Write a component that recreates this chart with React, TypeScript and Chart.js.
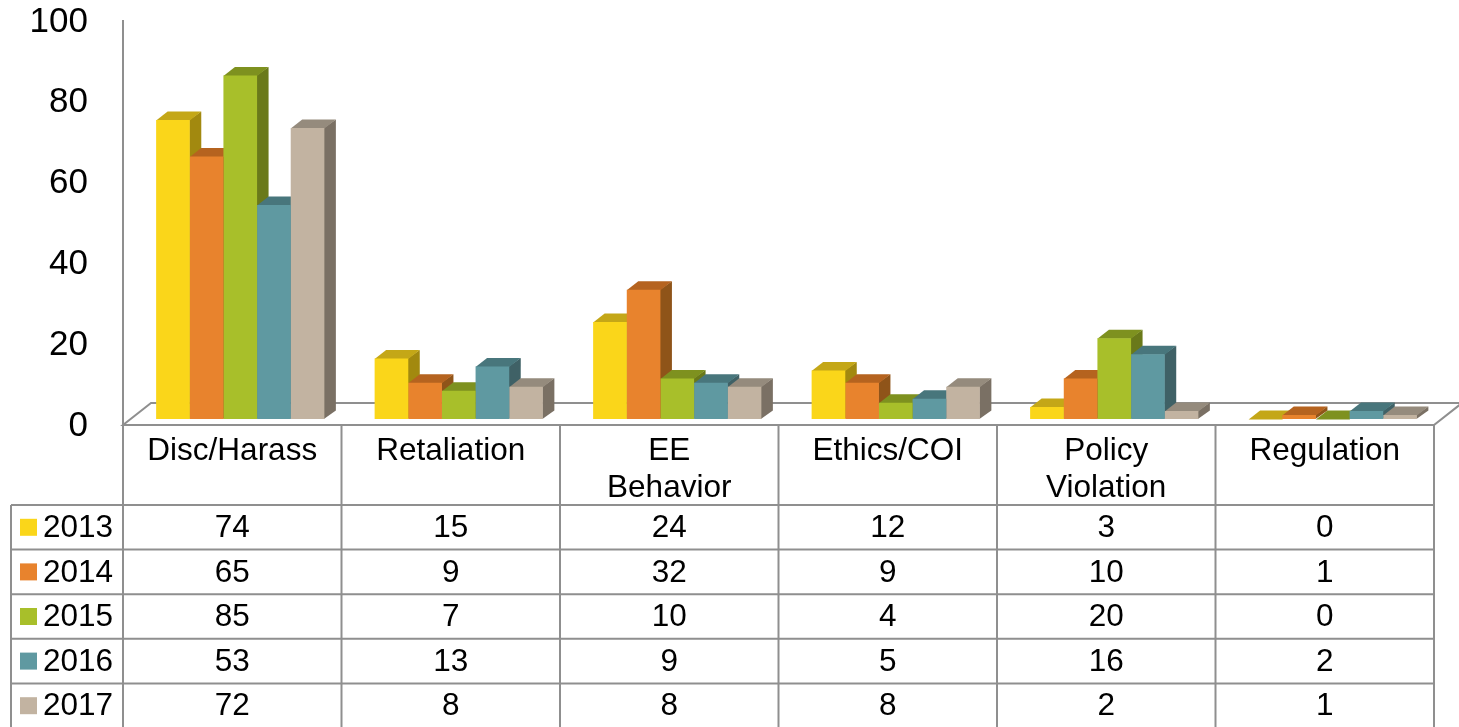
import React, { useEffect, useRef } from 'react';
import { Chart, registerables } from 'chart.js';

Chart.register(...registerables);

const categoryLines: string[][] = [
  ['Disc/Harass'],
  ['Retaliation'],
  ['EE', 'Behavior'],
  ['Ethics/COI'],
  ['Policy', 'Violation'],
  ['Regulation'],
];
const seriesNames = ['2013', '2014', '2015', '2016', '2017'];
const values2013 = [74, 15, 24, 12, 3, 0];
const values2014 = [65, 9, 32, 9, 10, 1];
const values2015 = [85, 7, 10, 4, 20, 0];
const values2016 = [53, 13, 9, 5, 16, 2];
const values2017 = [72, 8, 8, 8, 2, 1];
const yTickValues = [0, 20, 40, 60, 80, 100];

const frontColors = ['#FAD61A', '#E8832D', '#A8BF2A', '#5F99A1', '#C2B3A1'];
const topColors = ['#C4A717', '#B5631F', '#7E911F', '#48767C', '#958B7D'];
const sideColors = ['#A2890F', '#8F5419', '#6A791A', '#3F6166', '#7A7064'];

const FONT = "'Liberation Sans', Arial, sans-serif";

const excel3dPlugin = {
  id: 'excel3d',
  beforeDatasetsDraw(chart: any) {
    const ctx: CanvasRenderingContext2D = chart.ctx;
    const ys = chart.scales.y;
    const area = chart.chartArea;
    const nCat = categoryLines.length;
    const catW = (area.right - area.left) / nCat;
    const base = ys.getPixelForValue(0);
    const floorY = base + 6;
    const tableLeft = area.left - 8;
    const tableRight = area.right - 8;
    const floorDx = 28;
    const floorDy = 22;
    const lineColor = '#8f8f8f';

    ctx.save();
    // floor
    ctx.beginPath();
    ctx.moveTo(tableLeft, floorY);
    ctx.lineTo(tableRight, floorY);
    ctx.lineTo(tableRight + floorDx, floorY - floorDy);
    ctx.lineTo(tableLeft + floorDx, floorY - floorDy);
    ctx.closePath();
    ctx.fillStyle = '#ffffff';
    ctx.fill();
    ctx.strokeStyle = lineColor;
    ctx.lineWidth = 2;
    ctx.stroke();

    // vertical axis line
    ctx.beginPath();
    ctx.moveTo(tableLeft, ys.getPixelForValue(100) + 5);
    ctx.lineTo(tableLeft, floorY);
    ctx.stroke();

    // y tick labels
    ctx.fillStyle = '#000000';
    ctx.font = `35px ${FONT}`;
    ctx.textAlign = 'right';
    ctx.textBaseline = 'middle';
    yTickValues.forEach((v) => {
      ctx.fillText(String(v), 88, ys.getPixelForValue(v) + 7);
    });

    // data table
    const headerBottom = floorY + 80;
    const rowH = 44.6;
    const legendLeft = 11;
    const bottom = chart.height + 2;
    ctx.strokeStyle = lineColor;
    ctx.lineWidth = 2;
    ctx.beginPath();
    for (let k = 0; k <= nCat; k++) {
      const x = tableLeft + k * catW;
      ctx.moveTo(x, floorY);
      ctx.lineTo(x, bottom);
    }
    for (let r = 0; r < seriesNames.length; r++) {
      const y = headerBottom + r * rowH;
      ctx.moveTo(legendLeft, y);
      ctx.lineTo(tableRight, y);
    }
    ctx.moveTo(legendLeft, headerBottom);
    ctx.lineTo(legendLeft, bottom);
    ctx.stroke();

    ctx.font = `31.5px ${FONT}`;
    ctx.fillStyle = '#000000';
    ctx.textAlign = 'center';
    ctx.textBaseline = 'middle';
    categoryLines.forEach((lines, i) => {
      const cx = tableLeft + (i + 0.5) * catW;
      lines.forEach((t, li) => {
        ctx.fillText(t, cx, floorY + 26 + li * 37);
      });
    });

    const datasets = chart.data.datasets;
    datasets.forEach((ds: any, r: number) => {
      const cy = headerBottom + (r + 0.5) * rowH;
      ctx.fillStyle = frontColors[r];
      ctx.fillRect(20, cy - 8.5, 17, 17);
      ctx.fillStyle = '#000000';
      ctx.textAlign = 'left';
      ctx.fillText(ds.label, 43, cy + 1);
      ctx.textAlign = 'center';
      (ds.data as number[]).forEach((v, i) => {
        const cx = tableLeft + (i + 0.5) * catW;
        ctx.fillText(String(v), cx, cy + 1);
      });
    });

    // 3D sides and tops
    const dx = 11.5;
    const dy = 8.5;
    for (let i = 0; i < nCat; i++) {
      for (let d = 0; d < datasets.length; d++) {
        const meta = chart.getDatasetMeta(d);
        const el = meta.data[i];
        if (!el) continue;
        const p = el.getProps(['x', 'y', 'base', 'width'], true);
        const left = p.x - p.width / 2;
        const right = p.x + p.width / 2;
        ctx.fillStyle = sideColors[d];
        ctx.beginPath();
        ctx.moveTo(right - 0.5, p.y);
        ctx.lineTo(right + dx, p.y - dy);
        ctx.lineTo(right + dx, p.base - dy);
        ctx.lineTo(right - 0.5, p.base);
        ctx.closePath();
        ctx.fill();
        ctx.fillStyle = topColors[d];
        ctx.beginPath();
        ctx.moveTo(left, p.y + 0.5);
        ctx.lineTo(left + dx, p.y - dy);
        ctx.lineTo(right + dx, p.y - dy);
        ctx.lineTo(right, p.y + 0.5);
        ctx.closePath();
        ctx.fill();
      }
    }
    ctx.restore();
  },
};

export default function App() {
  const canvasRef = useRef<HTMLCanvasElement | null>(null);

  useEffect(() => {
    if (!canvasRef.current) return;
    const seriesValues = [values2013, values2014, values2015, values2016, values2017];
    const chart = new Chart(canvasRef.current, {
      type: 'bar',
      data: {
        labels: categoryLines.map((l) => l.join(' ')),
        datasets: seriesNames.map((name, i) => ({
          label: name,
          data: seriesValues[i],
          backgroundColor: frontColors[i],
          borderWidth: 0,
          categoryPercentage: 0.77,
          barPercentage: 1.0,
        })),
      },
      options: {
        responsive: false,
        animation: false,
        devicePixelRatio: 1,
        layout: { padding: { left: 131, right: 17, top: 15, bottom: 308 } },
        plugins: {
          legend: { display: false },
          tooltip: { enabled: false },
        },
        scales: {
          x: { display: false },
          y: { display: false, min: 0, max: 100, ticks: { stepSize: 20 } },
        },
      },
      plugins: [excel3dPlugin],
    });
    return () => chart.destroy();
  }, []);

  return (
    <div style={{ position: 'fixed', left: 0, top: 0, width: 1459, height: 727, background: '#ffffff' }}>
      <canvas ref={canvasRef} width={1459} height={727} style={{ display: 'block' }} />
    </div>
  );
}
